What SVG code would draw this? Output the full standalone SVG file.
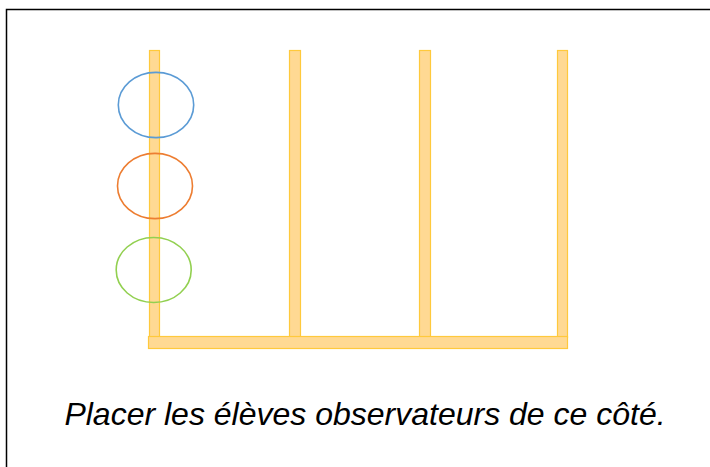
<svg xmlns="http://www.w3.org/2000/svg" width="710" height="467" viewBox="0 0 710 467">
<style>
.post{fill:#FFD993;stroke:#FFC93C;stroke-width:1.2}
.ring{fill:none;stroke-width:1.6}
.lbl{font-family:"Liberation Sans",Arial,sans-serif;font-style:italic;font-size:32px;fill:#000}
</style>
<rect x="0" y="0" width="710" height="467" fill="#fff"/>
<rect x="6.5" y="9.5" width="800" height="600" fill="none" stroke="#000" stroke-width="1.5"/>
<g id="structure">
<rect class="post" x="149.5" y="50.5" width="10" height="287"/>
<rect class="post" x="289.5" y="50.5" width="11" height="287"/>
<rect class="post" x="419.5" y="50.5" width="11" height="287"/>
<rect class="post" x="557.5" y="50.5" width="10" height="287"/>
<rect class="post" x="148.5" y="336.5" width="419" height="12"/>
</g>
<g id="eleve1"><ellipse class="ring" cx="156" cy="105" rx="37.7" ry="32.6" stroke="#5B9BD5"/></g>
<g id="eleve2"><ellipse class="ring" cx="155" cy="186" rx="37.5" ry="32.6" stroke="#ED7D31"/></g>
<g id="eleve3"><ellipse class="ring" cx="153.7" cy="270" rx="37.5" ry="32.5" stroke="#92D050"/></g>
<g id="connectors"></g>
<text class="lbl" x="365" y="425" text-anchor="middle">Placer les élèves observateurs de ce côté.</text>
</svg>
